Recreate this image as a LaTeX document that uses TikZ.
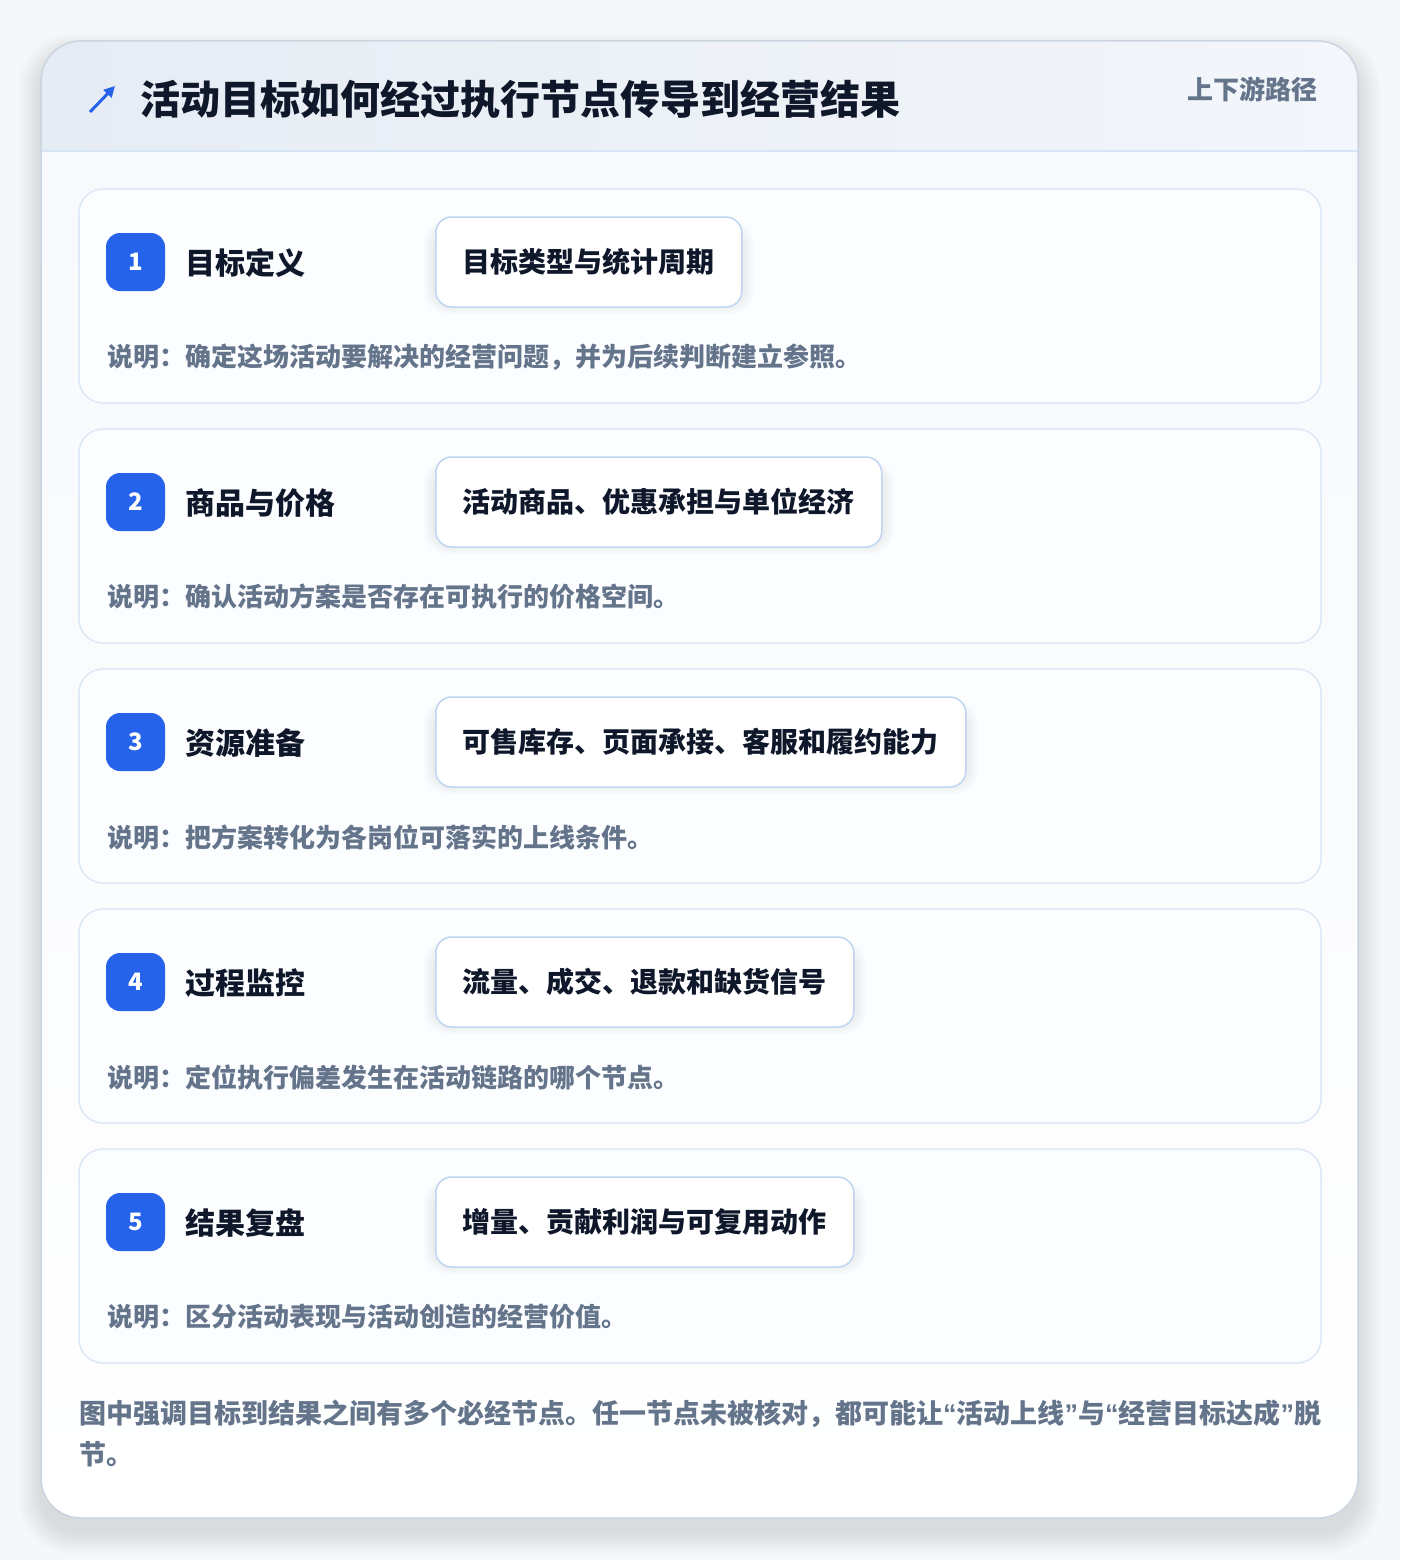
\documentclass[tikz,border=0pt]{standalone}
\usepackage{fontspec}
\setmainfont{Noto Sans CJK SC}
\newfontfamily\quotefont{Liberation Sans}
\usetikzlibrary{arrows.meta}
\pgfdeclarelayer{top}
\pgfsetlayers{main,top}
\definecolor{pagebg}{HTML}{F6F7F9}
\definecolor{cardborder}{HTML}{CBD5E1}
\definecolor{hdrA}{HTML}{E6ECF4}
\definecolor{hdrB}{HTML}{F3F6FA}
\definecolor{hdrline}{HTML}{D6E4F5}
\definecolor{bodytop}{HTML}{F7F9FC}
\definecolor{rowborder}{HTML}{DCE8F7}
\definecolor{rowfill}{HTML}{FCFDFF}
\definecolor{boxborder}{HTML}{BFD5F2}
\definecolor{accent}{HTML}{2563EB}
\definecolor{ink}{HTML}{0F172A}
\definecolor{muted}{HTML}{64748B}
\newcommand{\myopenq}{{\quotefont\bfseries “}}
\newcommand{\mycloseq}{{\quotefont\bfseries ”}}
\tikzset{
  rowcard/.style={draw=rowborder, line width=1.5pt, fill=rowfill, rounded corners=24pt, minimum width=1242pt, minimum height=214pt, inner sep=0pt},
  badgebox/.style={fill=accent, rounded corners=14pt, minimum width=59pt, minimum height=58pt, inner sep=0pt, text=white, font=\bfseries\fontsize{24}{26}\selectfont},
  steplabel/.style={anchor=west, inner sep=0pt, text=ink, font=\bfseries\fontsize{30}{36}\selectfont},
  tagbox/.style={anchor=west, draw=boxborder, line width=1.5pt, fill=white, rounded corners=16pt, minimum height=90pt, inner xsep=27pt, text=ink, font=\bfseries\fontsize{28}{33}\selectfont},
  desctext/.style={anchor=west, inner sep=0pt, text=muted, font=\bfseries\fontsize{26}{31}\selectfont},
}
\begin{document}
\begin{tikzpicture}[x=1pt,y=-1pt]
\useasboundingbox (0,0) rectangle (1400,1560);
\fill[pagebg] (0,0) rectangle (1400,1560);
% outer soft shadow
\foreach \i in {1,...,14}{
  \fill[black, opacity=0.007, rounded corners=40pt+\i pt] (41-1.6*\i,41-1.6*\i+14) rectangle (1358+1.6*\i,1518+1.6*\i+14);
}
\node[fill=white, rounded corners=40pt, minimum width=1317pt, minimum height=1477pt, inner sep=0pt] (main) at (699.5,779.5) {};
\begin{scope}
  \clip[rounded corners=40pt] (41,41) rectangle (1358,1518);
  \shade[top color=bodytop, bottom color=white] (41,151) rectangle (1358,1518);
  \shade[left color=hdrA, right color=hdrB] (41,41) rectangle (1358,151);
\end{scope}
\draw[hdrline, line width=1.5pt] (main.west |- 0,151) -- (main.east |- 0,151);
\draw[cardborder, line width=1.5pt, rounded corners=40pt] (41,41) rectangle (1358,1518);
% header
\coordinate (iconA) at (90,112);
\coordinate (iconB) at (115,86);
\draw[accent, line width=3pt, -{Triangle[length=11pt,width=11pt]}] (iconA) -- (iconB);
\node[anchor=west, inner sep=0pt, text=ink, font=\bfseries\fontsize{40}{48}\selectfont] (title) at (140,99) {活动目标如何经过执行节点传导到经营结果};
\node[anchor=east, inner sep=0pt, text=muted, font=\bfseries\fontsize{26}{30}\selectfont] (sub) at (1318,89) {上下游路径};
% rows
\foreach \n/\t/\lab/\tag/\desc in {
 1/189/目标定义/目标类型与统计周期/说明：确定这场活动要解决的经营问题，并为后续判断建立参照。,
 2/429/商品与价格/活动商品、优惠承担与单位经济/说明：确认活动方案是否存在可执行的价格空间。,
 3/669/资源准备/可售库存、页面承接、客服和履约能力/说明：把方案转化为各岗位可落实的上线条件。,
 4/909/过程监控/流量、成交、退款和缺货信号/说明：定位执行偏差发生在活动链路的哪个节点。,
 5/1149/结果复盘/增量、贡献利润与可复用动作/说明：区分活动表现与活动创造的经营价值。}{
  \node[rowcard] (card\n) at (700,\t+107) {};
  \begin{pgfonlayer}{top}
    \node[badgebox] (badge\n) at (135.5,\t+73) {\n};
    \node[steplabel] (label\n) at (185,\t+74) {\lab};
    \node[tagbox] (box\n) at (435,\t+73) {\tag};
    \node[desctext] (desc\n) at (107,\t+168) {\desc};
  \end{pgfonlayer}
  \foreach \k in {1,...,9}{
    \fill[black, opacity=0.009, rounded corners=16pt+\k pt]
      ([xshift=-1.3*\k pt, yshift=-1.3*\k pt+4pt]box\n.south west) rectangle ([xshift=1.3*\k pt, yshift=1.3*\k pt-14pt]box\n.north east);
  }
}
\node[anchor=north west, inner sep=0pt, text=muted, align=left, font=\bfseries\fontsize{27}{41}\selectfont] (note) at (79,1400) {图中强调目标到结果之间有多个必经节点。任一节点未被核对，都可能让\myopenq 活动上线\mycloseq 与\myopenq 经营目标达成\mycloseq 脱\\节。};
\end{tikzpicture}
\end{document}
